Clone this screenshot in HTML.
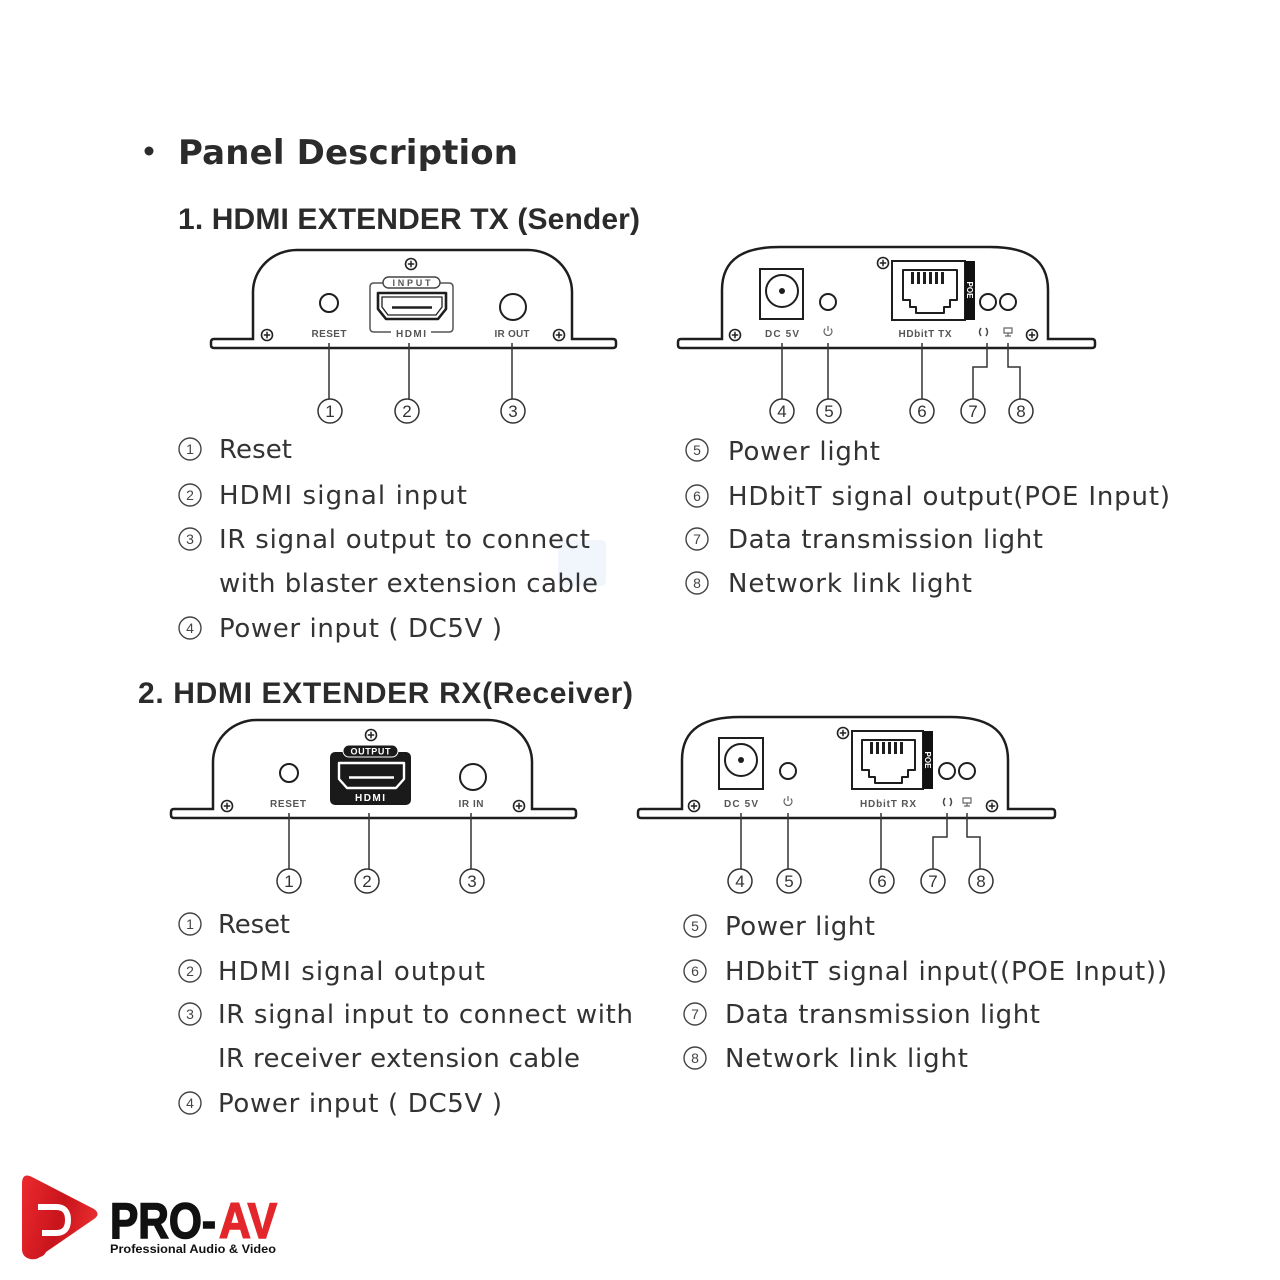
<!DOCTYPE html>
<html><head><meta charset="utf-8">
<style>html,body{margin:0;padding:0;background:#fff}svg{display:block}</style>
</head><body>
<svg width="1280" height="1280" viewBox="0 0 1280 1280">
<defs>
  <g id="screw"><circle r="5.5" fill="#fff" stroke="#222" stroke-width="1.6"/><path d="M-3.2,0H3.2M0,-3.2V3.2" stroke="#222" stroke-width="1.5"/></g>
  <linearGradient id="rg" x1="0" y1="0" x2="1" y2="0.3">
    <stop offset="0" stop-color="#ec2a2e"/><stop offset="0.6" stop-color="#c8141c"/><stop offset="1" stop-color="#e52a2d"/>
  </linearGradient>
</defs>
<rect width="1280" height="1280" fill="#fff"/>

<!-- faint watermark -->
<rect x="558" y="540" width="48" height="46" rx="4" fill="#f1f6fc"/>

<!-- Title -->
<circle cx="149" cy="151" r="4.5" fill="#2b2b2b"/>
<text x="178" y="164" font-family="'DejaVu Sans',sans-serif" font-weight="bold" font-size="34" fill="#2b2b2b" textLength="340">Panel Description</text>
<text x="178" y="229" font-family="'Liberation Sans',sans-serif" font-weight="bold" font-size="30" fill="#2b2b2b" textLength="462">1.  HDMI EXTENDER TX (Sender)</text>
<text x="138" y="703" font-family="'Liberation Sans',sans-serif" font-weight="bold" font-size="30" fill="#2b2b2b" textLength="495">2.  HDMI EXTENDER RX(Receiver)</text>

<!-- ===== TX LEFT DEVICE ===== -->
<g fill="none" stroke="#1e1e1e">
  <path d="M214,339H253V292A44 42 0 0 1 297,250H528A44 42 0 0 1 572,292V339H613Q616,339 616,342V345Q616,348 613,348H214Q211,348 211,345V342Q211,339 214,339Z" fill="#fff" stroke-width="2.5"/>
  <use href="#screw" x="411" y="264"/>
  <use href="#screw" x="267" y="335"/>
  <use href="#screw" x="559" y="335"/>
  <circle cx="329" cy="303" r="9" stroke-width="2"/>
  <circle cx="513" cy="307" r="13" stroke-width="2"/>
  <g font-family="'Liberation Sans',sans-serif" font-weight="bold" font-size="10" fill="#555" stroke="none" text-anchor="middle">
    <text x="329" y="337" textLength="35">RESET</text>
    <text x="512" y="337" textLength="35">IR OUT</text>
  </g>
  <path d="M329,343V399M512,343V399" stroke="#333" stroke-width="1.5"/>
</g>
<!-- TX HDMI input -->
<g fill="none" stroke="#1e1e1e">
  <path d="M385,283H374Q370,283 370,287V328Q370,332 374,332H391M440,283H449Q453,283 453,287V328Q453,332 449,332H431" stroke="#555" stroke-width="1.5"/>
  <rect x="383" y="277" width="57" height="11" rx="5.5" fill="#fff" stroke="#444" stroke-width="1.4"/>
  <text x="411.5" y="286" font-family="'Liberation Sans',sans-serif" font-weight="bold" font-size="9" fill="#555" stroke="none" text-anchor="middle" textLength="38">INPUT</text>
  <path d="M378,293H446V309L438,319H386L378,309Z" stroke-width="2.6" stroke-linejoin="round"/>
  <path d="M382,297H442V307L436,315H388L382,307Z" stroke-width="1.3" stroke-linejoin="round"/>
  <path d="M392,307.5H432" stroke-width="2.5"/>
  <text x="411" y="337" font-family="'Liberation Sans',sans-serif" font-weight="bold" font-size="10" fill="#555" stroke="none" text-anchor="middle" textLength="30">HDMI</text>
  <path d="M409,343V399" stroke="#333" stroke-width="1.5"/>
</g>
<g font-family="'Liberation Sans',sans-serif" font-size="17" fill="#333" text-anchor="middle">
  <circle cx="330" cy="411" r="12" fill="none" stroke="#333" stroke-width="1.5"/><text x="330" y="417">1</text>
  <circle cx="407" cy="411" r="12" fill="none" stroke="#333" stroke-width="1.5"/><text x="407" y="417">2</text>
  <circle cx="513" cy="411" r="12" fill="none" stroke="#333" stroke-width="1.5"/><text x="513" y="417">3</text>
</g>

<!-- ===== TX RIGHT DEVICE ===== -->
<g fill="none" stroke="#1e1e1e">
  <path d="M681,339H722V290C722,258 745,247 780,247H990C1025,247 1048,258 1048,290V339H1092Q1095,339 1095,342V345Q1095,348 1092,348H681Q678,348 678,345V342Q678,339 681,339Z" fill="#fff" stroke-width="2.5"/>
  <rect x="760" y="269" width="43" height="50" stroke-width="2"/>
  <circle cx="782" cy="291" r="16" stroke-width="2"/>
  <circle cx="782" cy="291" r="3" fill="#1e1e1e" stroke="none"/>
  <circle cx="828" cy="302" r="8" stroke-width="2"/>
  <rect x="892" y="261" width="73" height="59" stroke-width="2"/>
  <rect x="965" y="261" width="10" height="59" fill="#111" stroke="none"/>
  <text transform="translate(967,290) rotate(90)" font-family="'Liberation Sans',sans-serif" font-weight="bold" font-size="8" fill="#fff" stroke="none" text-anchor="middle">POE</text>
  <path d="M903,270H957V300H950V307H944V313H916V307H910V300H903Z" stroke-width="2" stroke-linejoin="round"/>
  <g fill="#1e1e1e" stroke="none">
    <rect x="911" y="272" width="3" height="12"/><rect x="917" y="272" width="3" height="12"/><rect x="923" y="272" width="3" height="12"/><rect x="929" y="272" width="3" height="12"/><rect x="935" y="272" width="3" height="12"/><rect x="941" y="272" width="3" height="12"/>
  </g>
  <use href="#screw" x="883" y="263"/>
  <circle cx="988" cy="302" r="8" stroke-width="2"/>
  <circle cx="1008" cy="302" r="8" stroke-width="2"/>
  <use href="#screw" x="735" y="335"/>
  <use href="#screw" x="1032" y="335"/>
  <g font-family="'Liberation Sans',sans-serif" font-weight="bold" font-size="10" fill="#555" stroke="none" text-anchor="middle">
    <text x="782" y="337" textLength="34">DC 5V</text>
    <text x="925" y="337" textLength="53">HDbitT TX</text>
  </g>
  <path d="M825.2,328.6A4 4 0 1 0 830.8,328.6M828,326V331" stroke="#666" stroke-width="1.2"/>
  <path d="M981,328Q978,332 981,336M986,328Q989,332 986,336" stroke="#444" stroke-width="1.5"/>
  <path d="M1004,328H1012V333H1004ZM1008,333V336M1005,336H1011" stroke="#666" stroke-width="1.2"/>
  <path d="M782,343V399M828,343V399M922,343V399M987,343V367H973V399M1008,343V367H1020V399" stroke="#333" stroke-width="1.5"/>
</g>
<g font-family="'Liberation Sans',sans-serif" font-size="17" fill="#333" text-anchor="middle">
  <circle cx="782" cy="411" r="12" fill="none" stroke="#333" stroke-width="1.5"/><text x="782" y="417">4</text>
  <circle cx="829" cy="411" r="12" fill="none" stroke="#333" stroke-width="1.5"/><text x="829" y="417">5</text>
  <circle cx="922" cy="411" r="12" fill="none" stroke="#333" stroke-width="1.5"/><text x="922" y="417">6</text>
  <circle cx="973" cy="411" r="12" fill="none" stroke="#333" stroke-width="1.5"/><text x="973" y="417">7</text>
  <circle cx="1021" cy="411" r="12" fill="none" stroke="#333" stroke-width="1.5"/><text x="1021" y="417">8</text>
</g>

<!-- ===== RX LEFT DEVICE ===== -->
<g transform="translate(-40,470)">
<g fill="none" stroke="#1e1e1e">
  <path d="M214,339H253V292A44 42 0 0 1 297,250H528A44 42 0 0 1 572,292V339H613Q616,339 616,342V345Q616,348 613,348H214Q211,348 211,345V342Q211,339 214,339Z" fill="#fff" stroke-width="2.5"/>
  <use href="#screw" x="411" y="265"/>
  <use href="#screw" x="267" y="336"/>
  <use href="#screw" x="559" y="336"/>
  <circle cx="329" cy="303" r="9" stroke-width="2"/>
  <circle cx="513" cy="307" r="13" stroke-width="2"/>
  <g font-family="'Liberation Sans',sans-serif" font-weight="bold" font-size="10" fill="#555" stroke="none" text-anchor="middle">
    <text x="328" y="337" textLength="36">RESET</text>
    <text x="511" y="337" textLength="25">IR IN</text>
  </g>
  <path d="M329,343V399M511,343V399M409,343V399" stroke="#333" stroke-width="1.5"/>
  <rect x="370" y="282" width="81" height="53" rx="5" fill="#1a1a1a" stroke="none"/>
  <rect x="383" y="275" width="55" height="12" rx="6" fill="#1a1a1a" stroke="#fff" stroke-width="1"/>
  <text x="410.5" y="284.5" font-family="'Liberation Sans',sans-serif" font-weight="bold" font-size="9" fill="#fff" stroke="none" text-anchor="middle" textLength="40">OUTPUT</text>
  <path d="M379,293H444V309L436,318H387L379,309Z" stroke="#fff" stroke-width="2.4" stroke-linejoin="round"/>
  <path d="M389,307.5H434" stroke="#fff" stroke-width="2.5"/>
  <text x="410" y="331" font-family="'Liberation Sans',sans-serif" font-weight="bold" font-size="10" fill="#fff" stroke="none" text-anchor="middle" textLength="30">HDMI</text>
</g>
<g font-family="'Liberation Sans',sans-serif" font-size="17" fill="#333" text-anchor="middle">
  <circle cx="329" cy="411" r="12" fill="none" stroke="#333" stroke-width="1.5"/><text x="329" y="417">1</text>
  <circle cx="407" cy="411" r="12" fill="none" stroke="#333" stroke-width="1.5"/><text x="407" y="417">2</text>
  <circle cx="512" cy="411" r="12" fill="none" stroke="#333" stroke-width="1.5"/><text x="512" y="417">3</text>
</g>
</g>

<!-- ===== RX RIGHT DEVICE ===== -->
<g transform="translate(-40,470)">
<g fill="none" stroke="#1e1e1e">
  <path d="M681,339H722V290C722,258 745,247 780,247H990C1025,247 1048,258 1048,290V339H1092Q1095,339 1095,342V345Q1095,348 1092,348H681Q678,348 678,345V342Q678,339 681,339Z" fill="#fff" stroke-width="2.5"/>
  <rect x="759" y="268" width="44" height="51" stroke-width="2"/>
  <circle cx="781" cy="290" r="16" stroke-width="2"/>
  <circle cx="781" cy="290" r="3" fill="#1e1e1e" stroke="none"/>
  <circle cx="828" cy="301" r="8" stroke-width="2"/>
  <rect x="892" y="261" width="71" height="58" stroke-width="2"/>
  <rect x="963" y="261" width="10" height="58" fill="#111" stroke="none"/>
  <text transform="translate(965,290) rotate(90)" font-family="'Liberation Sans',sans-serif" font-weight="bold" font-size="8" fill="#fff" stroke="none" text-anchor="middle">POE</text>
  <path d="M902,270H955V300H948V307H942V313H915V307H909V300H902Z" stroke-width="2" stroke-linejoin="round"/>
  <g fill="#1e1e1e" stroke="none">
    <rect x="910" y="272" width="3" height="12"/><rect x="916" y="272" width="3" height="12"/><rect x="922" y="272" width="3" height="12"/><rect x="928" y="272" width="3" height="12"/><rect x="934" y="272" width="3" height="12"/><rect x="940" y="272" width="3" height="12"/>
  </g>
  <use href="#screw" x="883" y="263"/>
  <circle cx="987" cy="301" r="8" stroke-width="2"/>
  <circle cx="1007" cy="301" r="8" stroke-width="2"/>
  <use href="#screw" x="734" y="336"/>
  <use href="#screw" x="1032" y="336"/>
  <g font-family="'Liberation Sans',sans-serif" font-weight="bold" font-size="10" fill="#555" stroke="none" text-anchor="middle">
    <text x="781" y="337" textLength="34">DC 5V</text>
    <text x="928" y="337" textLength="56">HDbitT RX</text>
  </g>
  <path d="M825.2,328.6A4 4 0 1 0 830.8,328.6M828,326V331" stroke="#666" stroke-width="1.2"/>
  <path d="M985,328Q982,332 985,336M990,328Q993,332 990,336" stroke="#444" stroke-width="1.5"/>
  <path d="M1003,328H1011V333H1003ZM1007,333V336M1004,336H1010" stroke="#666" stroke-width="1.2"/>
  <path d="M781,343V399M828,343V399M921,343V399M987,343V367H973V399M1007,343V367H1020V399" stroke="#333" stroke-width="1.5"/>
</g>
<g font-family="'Liberation Sans',sans-serif" font-size="17" fill="#333" text-anchor="middle">
  <circle cx="780" cy="411" r="12" fill="none" stroke="#333" stroke-width="1.5"/><text x="780" y="417">4</text>
  <circle cx="829" cy="411" r="12" fill="none" stroke="#333" stroke-width="1.5"/><text x="829" y="417">5</text>
  <circle cx="922" cy="411" r="12" fill="none" stroke="#333" stroke-width="1.5"/><text x="922" y="417">6</text>
  <circle cx="973" cy="411" r="12" fill="none" stroke="#333" stroke-width="1.5"/><text x="973" y="417">7</text>
  <circle cx="1021" cy="411" r="12" fill="none" stroke="#333" stroke-width="1.5"/><text x="1021" y="417">8</text>
</g>
</g>

<!-- ===== LISTS ===== -->
<g fill="none" stroke="#444" stroke-width="1.4">
  <circle cx="190" cy="449" r="11"/><circle cx="190" cy="495" r="11"/><circle cx="190" cy="539" r="11"/><circle cx="190" cy="628" r="11"/>
  <circle cx="697" cy="450" r="11"/><circle cx="697" cy="496" r="11"/><circle cx="697" cy="539" r="11"/><circle cx="697" cy="583" r="11"/>
  <circle cx="190" cy="924" r="11"/><circle cx="190" cy="971" r="11"/><circle cx="190" cy="1014" r="11"/><circle cx="190" cy="1103" r="11"/>
  <circle cx="695" cy="926" r="11"/><circle cx="695" cy="971" r="11"/><circle cx="695" cy="1014" r="11"/><circle cx="695" cy="1058" r="11"/>
</g>
<g font-family="'Liberation Sans',sans-serif" font-size="14" fill="#444" text-anchor="middle">
  <text x="190" y="454">1</text><text x="190" y="500">2</text><text x="190" y="544">3</text><text x="190" y="633">4</text>
  <text x="697" y="455">5</text><text x="697" y="501">6</text><text x="697" y="544">7</text><text x="697" y="588">8</text>
  <text x="190" y="929">1</text><text x="190" y="976">2</text><text x="190" y="1019">3</text><text x="190" y="1108">4</text>
  <text x="695" y="931">5</text><text x="695" y="976">6</text><text x="695" y="1019">7</text><text x="695" y="1063">8</text>
</g>
<g font-family="'DejaVu Sans',sans-serif" font-size="26" fill="#333">
  <text x="219" y="458" textLength="73">Reset</text>
  <text x="219" y="504" textLength="248">HDMI signal input</text>
  <text x="219" y="548" textLength="371">IR signal output to connect</text>
  <text x="219" y="592" textLength="379">with blaster extension cable</text>
  <text x="219" y="637" textLength="283">Power input ( DC5V )</text>

  <text x="728" y="460" textLength="152">Power light</text>
  <text x="728" y="505" textLength="442">HDbitT signal output(POE Input)</text>
  <text x="728" y="548" textLength="315">Data transmission light</text>
  <text x="728" y="592" textLength="244">Network link light</text>

  <text x="218" y="933" textLength="72">Reset</text>
  <text x="218" y="980" textLength="267">HDMI signal output</text>
  <text x="218" y="1023" textLength="415">IR signal input to connect with</text>
  <text x="218" y="1067" textLength="362">IR receiver extension cable</text>
  <text x="218" y="1112" textLength="284">Power input ( DC5V )</text>

  <text x="725" y="935" textLength="150">Power light</text>
  <text x="725" y="980" textLength="442">HDbitT signal input((POE Input))</text>
  <text x="725" y="1023" textLength="315">Data transmission light</text>
  <text x="725" y="1067" textLength="243">Network link light</text>
</g>

<!-- ===== LOGO ===== -->
<path d="M22,1184Q22,1172 32,1177L94,1209Q101,1214 94,1219L46,1252Q44,1256 40,1257Q36,1260 30,1259Q22,1257 22,1249Z" fill="url(#rg)"/>
<path d="M38,1207H56Q68,1207 68,1220Q68,1233 56,1233H42" fill="none" stroke="#fff" stroke-width="6"/>
<text x="110" y="1238" font-family="'Liberation Sans',sans-serif" font-weight="bold" font-size="50" fill="#111" stroke="#111" stroke-width="1.5" textLength="106" lengthAdjust="spacingAndGlyphs">PRO-</text>
<text x="219" y="1238" font-family="'Liberation Sans',sans-serif" font-weight="bold" font-size="50" fill="#e3262b" stroke="#e3262b" stroke-width="1.5" textLength="58" lengthAdjust="spacingAndGlyphs">AV</text>
<text x="110" y="1253" font-family="'Liberation Sans',sans-serif" font-weight="bold" font-size="12" fill="#111" textLength="166" lengthAdjust="spacingAndGlyphs">Professional Audio &amp; Video</text>
</svg>
</body></html>
